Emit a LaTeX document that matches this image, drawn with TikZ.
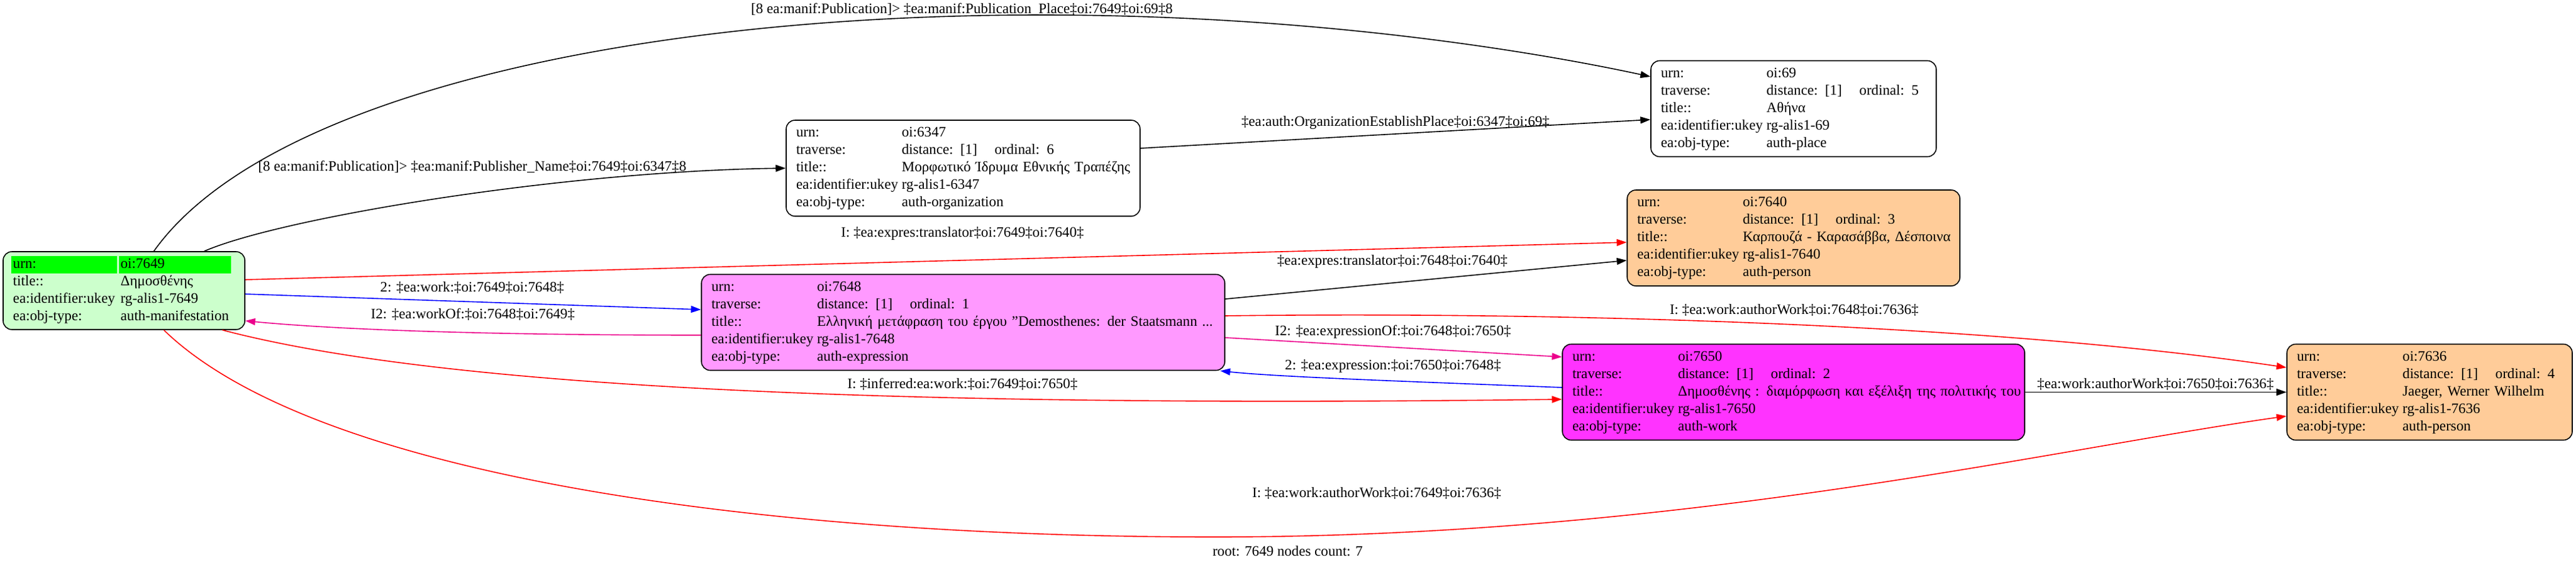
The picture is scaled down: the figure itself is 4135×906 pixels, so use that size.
\documentclass[tikz,border=0pt]{standalone}
\usepackage{fontspec}
\setmainfont{Liberation Serif}
\usepackage{colortbl}
\usetikzlibrary{arrows.meta, positioning}
\setlength{\parindent}{0pt}
\setlength{\tabcolsep}{1.5pt}
\definecolor{manifbg}{HTML}{CCFFCC}
\definecolor{urngreen}{HTML}{00FF00}
\definecolor{personbg}{HTML}{FFCC99}
\definecolor{exprbg}{HTML}{FF99FF}
\definecolor{workbg}{HTML}{FF33FF}
\tikzstyle{record} = [rectangle, rounded corners=7pt, draw=black, line width=0.8pt, inner xsep=6.5pt, inner ysep=3.5pt, align=left, font=\fontsize{11.6}{14}\selectfont]
\tikzstyle{edgelabel} = [inner sep=0pt, font=\fontsize{11.6}{14}\selectfont]
\tikzstyle{arrow} = [line width=0.8pt, -{Triangle[length=8pt,width=5.5pt]}]

\begin{document}
\begin{tikzpicture}[x=0.5pt, y=-0.5pt, on grid]
    \useasboundingbox (0,0) rectangle (4135,906);

        % Nodes
        \node (manif) [record, fill=manifbg, text width=181pt, inner ysep=3.25pt] at (199,466.5) {\begin{tabular}{l!{\color{manifbg}\vrule width 1.5pt}l}
            \cellcolor{urngreen}urn: & \cellcolor{urngreen}oi:7649\\
            title:: & Δημοσθένης\\
            ea:identifier:ukey & rg-alis1-7649\\
            ea:obj-type: & auth-manifestation
        \end{tabular}};
        \node (org) [record, text width=271pt] at (1546,270) {\begin{tabular}{ll}
            urn: & oi:6347\\
            traverse: & \makebox[74.5pt][l]{distance: [1]}ordinal: 6\\
            title:: & Μορφωτικό Ίδρυμα Εθνικής Τραπέζης\\
            ea:identifier:ukey & rg-alis1-6347\\
            ea:obj-type: & auth-organization
        \end{tabular}};
        \node (expr) [record, fill=exprbg, text width=407pt, below=123.75pt of org] {\begin{tabular}{ll}
            urn: & oi:7648\\
            traverse: & \makebox[74.5pt][l]{distance: [1]}ordinal: 1\\
            title:: & Ελληνική μετάφραση του έργου "Demosthenes: der Staatsmann ...\\
            ea:identifier:ukey & rg-alis1-7648\\
            ea:obj-type: & auth-expression
        \end{tabular}};
        \node (place) [record, text width=216pt] at (2879,174.5) {\begin{tabular}{ll}
            urn: & oi:69\\
            traverse: & \makebox[74.5pt][l]{distance: [1]}ordinal: 5\\
            title:: & Αθήνα\\
            ea:identifier:ukey & rg-alis1-69\\
            ea:obj-type: & auth-place
        \end{tabular}};
        \node (trans) [record, fill=personbg, text width=254pt, below=103.75pt of place] {\begin{tabular}{ll}
            urn: & oi:7640\\
            traverse: & \makebox[74.5pt][l]{distance: [1]}ordinal: 3\\
            title:: & Καρπουζά - Καρασάββα, Δέσποινα\\
            ea:identifier:ukey & rg-alis1-7640\\
            ea:obj-type: & auth-person
        \end{tabular}};
        \node (work) [record, fill=workbg, text width=358pt, below=123.75pt of trans] {\begin{tabular}{ll}
            urn: & oi:7650\\
            traverse: & \makebox[74.5pt][l]{distance: [1]}ordinal: 2\\
            title:: & Δημοσθένης : διαμόρφωση και εξέλιξη της πολιτικής του\\
            ea:identifier:ukey & rg-alis1-7650\\
            ea:obj-type: & auth-work
        \end{tabular}};
        \node (auth) [record, fill=personbg, text width=216pt, right=510.5pt of work] {\begin{tabular}{ll}
            urn: & oi:7636\\
            traverse: & \makebox[74.5pt][l]{distance: [1]}ordinal: 4\\
            title:: & Jaeger, Werner Wilhelm\\
            ea:identifier:ukey & rg-alis1-7636\\
            ea:obj-type: & auth-person
        \end{tabular}};

        % Arrows
        \draw [arrow] ([xshift=24pt]manif.north) .. controls (420,160) and (1000,24) .. (1671,24) .. controls (2100,24) and (2450,80) .. ([yshift=25.75pt]place.west);
        \draw [arrow] ([xshift=64.5pt]manif.north) .. controls (450,350) and (900,275) .. (org.west);
        \draw [arrow] ([yshift=16pt]org.east) -- ([yshift=-8.75pt]place.west);
        \draw [arrow, red] ([yshift=8.75pt]manif.east) -- ([yshift=-3.5pt]trans.west);
        \draw [arrow, blue] ([yshift=-2.75pt]manif.east) -- ([yshift=10.25pt]expr.west);
        \draw [arrow, magenta] ([yshift=-10.25pt]expr.west) .. controls (800,538) and (550,530) .. ([yshift=-24.25pt]manif.east);
        \draw [arrow] ([yshift=18.75pt]expr.east) -- ([yshift=-18pt]trans.west);
        \draw [arrow, red] ([yshift=5.25pt]expr.east) .. controls (2500,500) and (3200,520) .. ([yshift=19.75pt]auth.west);
        \draw [arrow, magenta] ([yshift=-12.25pt]expr.east) -- ([yshift=28.25pt]work.west);
        \draw [arrow, blue] ([yshift=3.75pt]work.west) .. controls (2250,612) and (2050,605) .. ([xshift=-4pt]expr.south east);
        \draw [arrow, red] ([xshift=79pt]manif.south) .. controls (700,620) and (1400,655) .. ([yshift=-5.75pt]work.west);
        \draw [arrow, red] ([xshift=32pt]manif.south) .. controls (500,760) and (1200,862) .. (1950,862) .. controls (2700,862) and (3300,720) .. ([yshift=-19.25pt]auth.west);
        \draw [arrow] (work.east) -- (auth.west);

        % Labels
        \node (lplace) [edgelabel] at (1544,15) {[8 ea:manif:Publication]> ‡ea:manif:Publication\_Place‡oi:7649‡oi:69‡8};
        \node (lpub) [edgelabel] at (758,268) {[8 ea:manif:Publication]> ‡ea:manif:Publisher\_Name‡oi:7649‡oi:6347‡8};
        \node (lestab) [edgelabel] at (2240,197) {‡ea:auth:OrganizationEstablishPlace‡oi:6347‡oi:69‡};
        \node (ltrans) [edgelabel] at (1545,375) {I: ‡ea:expres:translator‡oi:7649‡oi:7640‡};
        \node (lwork) [edgelabel] at (758,462) {2: ‡ea:work:‡oi:7649‡oi:7648‡};
        \node (lworkof) [edgelabel] at (759,505) {I2: ‡ea:workOf:‡oi:7648‡oi:7649‡};
        \node (ltranstwo) [edgelabel] at (2235,420) {‡ea:expres:translator‡oi:7648‡oi:7640‡};
        \node (lauthone) [edgelabel] at (2880,498) {I: ‡ea:work:authorWork‡oi:7648‡oi:7636‡};
        \node (lexprof) [edgelabel] at (2236,533) {I2: ‡ea:expressionOf:‡oi:7648‡oi:7650‡};
        \node (lexpr) [edgelabel] at (2236,588) {2: ‡ea:expression:‡oi:7650‡oi:7648‡};
        \node (linfer) [edgelabel] at (1545,617) {I: ‡inferred:ea:work:‡oi:7649‡oi:7650‡};
        \node (lauthtwo) [edgelabel] at (3460,617) {‡ea:work:authorWork‡oi:7650‡oi:7636‡};
        \node (lauththree) [edgelabel] at (2210,792) {I: ‡ea:work:authorWork‡oi:7649‡oi:7636‡};
        \node (lroot) [edgelabel] at (2067,885) {root: 7649 nodes count: 7};

    \end{tikzpicture}
\end{document}
